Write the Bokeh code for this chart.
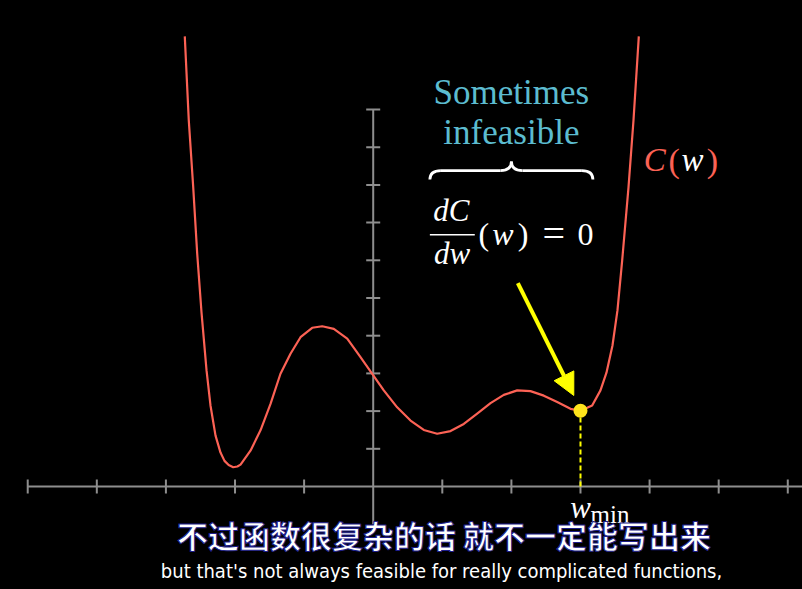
import numpy as np
from bokeh.plotting import figure
from bokeh.models import Range1d, Arrow, NormalHead
from bokeh.core.properties import value
from bokeh.embed import file_html
from bokeh.resources import INLINE

# ---- data: cost curve C(w) ----
w_vals = [-2.727, -2.669, -2.605, -2.547, -2.485, -2.412, -2.355, -2.282, -2.210, -2.152,
          -2.092, -2.026, -1.966, -1.920, -1.776, -1.631, -1.486, -1.342, -1.197, -1.052,
          -0.883, -0.738, -0.570, -0.376, -0.184, -0.014, 0.153, 0.347, 0.540, 0.732,
          0.926, 1.119, 1.311, 1.505, 1.698, 1.890, 2.084, 2.276, 2.469, 2.663,
          2.855, 3.000, 3.169, 3.289, 3.376, 3.463, 3.535, 3.603, 3.695, 3.767, 3.844]
c_vals = [11.94, 9.71, 7.94, 6.17, 4.62, 3.08, 2.15, 1.35, 0.90, 0.68,
          0.57, 0.51, 0.53, 0.58, 0.95, 1.49, 2.19, 2.99, 3.52, 3.96,
          4.21, 4.25, 4.18, 3.92, 3.43, 2.99, 2.55, 2.10, 1.75, 1.50,
          1.40, 1.47, 1.66, 1.93, 2.21, 2.43, 2.55, 2.53, 2.41, 2.24,
          2.06, 2.01, 2.15, 2.55, 3.02, 3.74, 4.67, 5.99, 7.94, 9.71, 11.94]

x_ticks = [-5, -4, -3, -2, -1, 1, 2, 3, 4, 5, 6]
y_ticks = [1, 2, 3, 4, 5, 6, 7, 8, 9, 10]
x_axis_span = [-5, 6.4]
y_axis_span = [-1, 10]
w_min = 3.0
c_min = 2.01

title_lines = ["Sometimes", "infeasible"]
subtitle_zh = "不过函数很复杂的话 就不一定能写出来"
subtitle_en = "but that's not always feasible for really complicated functions,"

RED = "#FC6255"
YELLOW = "#FFFF00"
GREY = "#8e8e8e"
BLUE = "#5CBCD0"
WHITE = "#FFFFFF"
SERIF = value("Liberation Serif")

p = figure(width=802, height=589, output_backend="svg", toolbar_location=None,
           x_range=Range1d(-5.394, 6.213), y_range=Range1d(-2.732, 12.891),
           x_axis_type=None, y_axis_type=None, min_border=0,
           min_border_left=0, min_border_right=0, min_border_top=0, min_border_bottom=0)
p.background_fill_color = "black"
p.border_fill_color = "black"
p.outline_line_color = None
p.grid.visible = False

# axes
p.segment(x0=[x_axis_span[0], 0], y0=[0, y_axis_span[0]],
          x1=[x_axis_span[1], 0], y1=[0, y_axis_span[1]],
          line_color=GREY, line_width=2)
p.scatter(x_ticks, [0] * len(x_ticks), marker="dash", angle=np.pi / 2, size=14,
          line_color=GREY, line_width=2)
p.scatter([0] * len(y_ticks), y_ticks, marker="dash", size=14,
          line_color=GREY, line_width=2)

# curve
p.line(w_vals, c_vals, line_color=RED, line_width=2.2, line_join="round")

# minimum marker
p.segment(x0=[w_min], y0=[0], x1=[w_min], y1=[c_min], line_color=YELLOW,
          line_width=2, line_dash="5 3")
p.scatter([w_min], [c_min], size=14, fill_color="#FFE41C", line_color=None)

# arrow
p.add_layout(Arrow(end=NormalHead(size=22, fill_color=YELLOW, line_color=YELLOW),
                   x_start=2.093, y_start=5.393, x_end=2.903, y_end=2.414,
                   line_color=YELLOW, line_width=4))

# "Sometimes infeasible"
p.text(x=[2.0, 2.0], y=[10.45, 9.38], text=title_lines, text_color=BLUE,
       text_font=SERIF, text_font_size="35px",
       text_align="center", text_baseline="alphabetic")

# brace
bx0, bx1, bxc, a = 0.82, 3.18, 2.0, 0.16
ye, ym, yt = 8.14, 8.38, 8.62
p.quadratic(x0=[bx0, bxc - a, bxc, bx1 - a], y0=[ye, ym, yt, ym],
            x1=[bx0 + a, bxc, bxc + a, bx1], y1=[ym, yt, ym, ye],
            cx=[bx0, bxc, bxc, bx1], cy=[ym, ym, ym, ym],
            line_color=WHITE, line_width=2.8)
p.segment(x0=[bx0 + a, bxc + a], y0=[ym, ym], x1=[bxc - a, bx1 - a], y1=[ym, ym],
          line_color=WHITE, line_width=2.8)

# dC/dw (w) = 0
p.text(x=[1.131, 1.14], y=[7.31, 6.18], text=["dC", "dw"], text_color=WHITE,
       text_font=SERIF, text_font_size="31px", text_font_style="italic",
       text_align="center", text_baseline="alphabetic")
p.segment(x0=[0.82], y0=[6.68], x1=[1.47], y1=[6.68], line_color=WHITE, line_width=1.5)
p.text(x=[1.601, 2.168, 3.072], y=[6.69] * 3, text=["(", ")", "0"],
       text_color=WHITE, text_font=SERIF, text_font_size="32px",
       text_align="center", text_baseline="alphabetic")
p.text(x=[2.614], y=[6.72], text=["="],
       text_color=WHITE, text_font=SERIF, text_font_size="40px",
       text_align="center", text_baseline="alphabetic")
p.text(x=[1.878], y=[6.69], text=["w"], text_color=WHITE,
       text_font=SERIF, text_font_size="32px", text_font_style="italic",
       text_align="center", text_baseline="alphabetic")

# C(w)
p.text(x=[4.074], y=[8.66], text=["C"], text_color=RED,
       text_font=SERIF, text_font_size="33px", text_font_style="italic",
       text_align="center", text_baseline="alphabetic")
p.text(x=[4.357, 4.910], y=[8.66, 8.66], text=["(", ")"], text_color=RED,
       text_font=SERIF, text_font_size="34px",
       text_align="center", text_baseline="alphabetic")
p.text(x=[4.621], y=[8.66], text=["w"], text_color=WHITE,
       text_font=SERIF, text_font_size="33px", text_font_style="italic",
       text_align="center", text_baseline="alphabetic")

# w_min label
p.text(x=[w_min], y=[-0.55], text=["w"], text_color=WHITE,
       text_font=SERIF, text_font_size="31px", text_font_style="italic",
       text_align="center", text_baseline="alphabetic")
p.text(x=[3.145], y=[-0.74], text=["min"], text_color=WHITE,
       text_font=SERIF, text_font_size="25px",
       text_align="left", text_baseline="alphabetic")

# subtitles
p.text(x=[1.025], y=[-1.28], text=[subtitle_zh], text_color=WHITE,
       text_font=value("Noto Sans CJK SC"), text_font_size="31px", text_font_style="bold",
       text_align="center", text_baseline="middle",
       text_outline_color="#1d1d8a")
p.text(x=[0.988], y=[-2.25], text=[subtitle_en], text_color=WHITE,
       text_font=value("DejaVu Sans Condensed, Liberation Sans"), text_font_size="20px",
       text_align="center", text_baseline="middle")

html = file_html(p, INLINE)
html = html.replace("<head>", "<head><style>html,body{margin:0;padding:0;background:#000;overflow:hidden}</style>", 1)
open("out.html", "w").write(html)
